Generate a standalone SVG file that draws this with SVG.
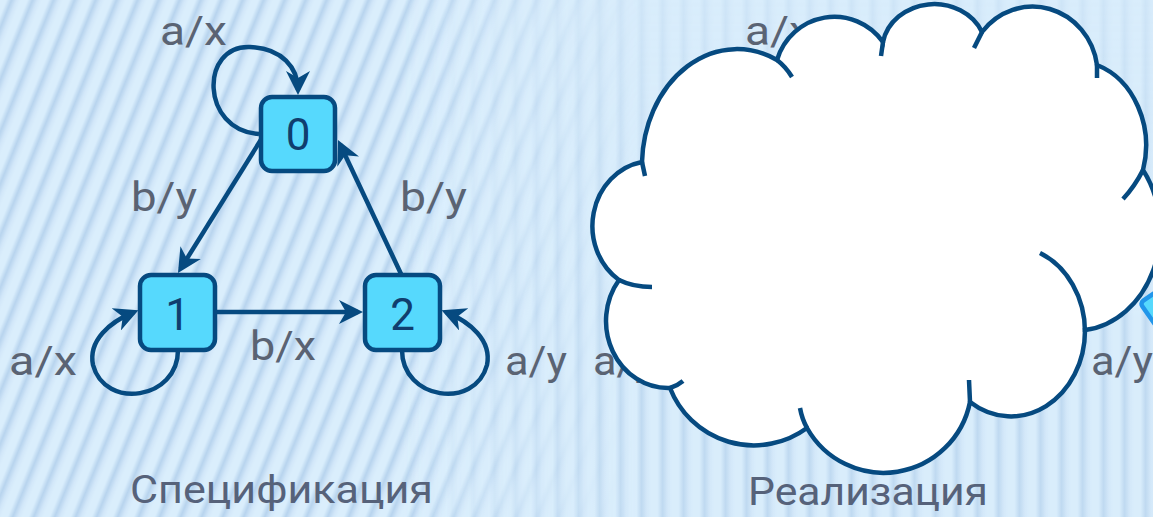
<svg xmlns="http://www.w3.org/2000/svg" width="1153" height="517" viewBox="0 0 1153 517">
  <defs>
    <style>
      .lbl { font-family: Roboto, "Liberation Sans", sans-serif; font-size: 40px; fill: #5A6373; }
      .ttl { font-family: Roboto, "Liberation Sans", sans-serif; font-size: 38px; fill: #56627A; }
      .node rect { fill: #56D9FD; stroke: #064A80; stroke-width: 4.5; }
      .node text { font-family: Roboto, "Liberation Sans", sans-serif; font-size: 44px; fill: #103E6E; text-anchor: middle; }
      .edge { fill: none; stroke: #064A80; stroke-width: 4.5; marker-end: url(#arrow); }
      .cloud { fill: #FFFFFF; stroke: #064A80; stroke-width: 4.5; stroke-linejoin: miter; }
      .crease { fill: none; stroke: #064A80; stroke-width: 4.5; }
    </style>

    <!-- soft stripe used by the background hatching -->
    <linearGradient id="stripeShade" x1="0" y1="0" x2="1" y2="0">
      <stop offset="0" stop-color="#DAEEFC"/>
      <stop offset="0.3" stop-color="#DAEEFC"/>
      <stop offset="0.55" stop-color="#B8D4EE"/>
      <stop offset="0.8" stop-color="#D2E7F9"/>
      <stop offset="1" stop-color="#DAEEFC"/>
    </linearGradient>
    <pattern id="stripesSlant" width="21" height="20" patternUnits="userSpaceOnUse" patternTransform="skewX(-22)">
      <rect width="21" height="20" fill="url(#stripeShade)"/>
    </pattern>
    <pattern id="stripesUpright" width="21" height="20" patternUnits="userSpaceOnUse">
      <rect width="21" height="20" fill="url(#stripeShade)"/>
    </pattern>

    <linearGradient id="fadeLeft" gradientUnits="userSpaceOnUse" x1="400" y1="0" x2="640" y2="0">
      <stop offset="0" stop-color="#FFFFFF"/>
      <stop offset="1" stop-color="#000000"/>
    </linearGradient>
    <linearGradient id="fadeRight" gradientUnits="userSpaceOnUse" x1="400" y1="0" x2="640" y2="0">
      <stop offset="0" stop-color="#000000"/>
      <stop offset="1" stop-color="#FFFFFF"/>
    </linearGradient>
    <linearGradient id="topDim" gradientUnits="userSpaceOnUse" x1="0" y1="0" x2="0" y2="320">
      <stop offset="0" stop-color="#000000" stop-opacity="0.6"/>
      <stop offset="1" stop-color="#000000" stop-opacity="0"/>
    </linearGradient>
    <mask id="maskLeft" maskUnits="userSpaceOnUse" x="0" y="0" width="1153" height="517">
      <rect width="1153" height="517" fill="url(#fadeLeft)"/>
    </mask>
    <mask id="maskRight" maskUnits="userSpaceOnUse" x="0" y="0" width="1153" height="517">
      <rect width="1153" height="517" fill="url(#fadeRight)"/>
      <rect width="1153" height="517" fill="url(#topDim)"/>
    </mask>

    <marker id="arrow" viewBox="0 0 24 24" markerWidth="24" markerHeight="24" refX="19" refY="12" orient="auto" markerUnits="userSpaceOnUse">
      <path d="M0,0 L24,12 L0,24 L7,12 Z" fill="#064A80"/>
    </marker>
  </defs>

  <!-- background -->
  <rect width="1153" height="517" fill="#D8ECFB"/>
  <rect width="1153" height="517" fill="url(#stripesSlant)" mask="url(#maskLeft)"/>
  <rect width="1153" height="517" fill="url(#stripesUpright)" mask="url(#maskRight)" opacity="0.75"/>

  <!-- specification automaton: transitions -->
  <g id="connectors">
    <path class="edge" d="M259,134 C200,130 200,45 250,47 C282,48 298,68 298,90"/>
    <path class="edge" d="M262,138 L180.6,268.8"/>
    <path class="edge" d="M402,276 L340.1,144.5"/>
    <path class="edge" d="M215,312 L358,312"/>
    <path class="edge" d="M178,350 C178,400 105,410 93,365 C88,340 110,322 133.8,312.1"/>
    <path class="edge" d="M402,350 C402,400 475,410 487,365 C492,340 470,322 446.2,312.1"/>
  </g>

  <!-- transition labels -->
  <g id="labels">
    <text class="lbl" x="160" y="45" textLength="67" lengthAdjust="spacingAndGlyphs">a/x</text>
    <text class="lbl" x="131" y="211" textLength="66" lengthAdjust="spacingAndGlyphs">b/y</text>
    <text class="lbl" x="400" y="211" textLength="67" lengthAdjust="spacingAndGlyphs">b/y</text>
    <text class="lbl" x="9" y="375" textLength="68" lengthAdjust="spacingAndGlyphs">a/x</text>
    <text class="lbl" x="250" y="360" textLength="66" lengthAdjust="spacingAndGlyphs">b/x</text>
    <text class="lbl" x="505" y="375" textLength="62" lengthAdjust="spacingAndGlyphs">a/y</text>
  </g>

  <!-- states -->
  <g id="state-0" class="node">
    <rect x="261" y="97" width="74" height="74" rx="11"/>
    <text x="298" y="150">0</text>
  </g>
  <g id="state-1" class="node">
    <rect x="140" y="275" width="75" height="75" rx="11"/>
    <text x="177.5" y="330">1</text>
  </g>
  <g id="state-2" class="node">
    <rect x="365" y="275" width="75" height="75" rx="11"/>
    <text x="402.5" y="330">2</text>
  </g>

  <!-- implementation automaton, mostly hidden behind the cloud -->
  <g id="implementation">
    <text class="lbl" x="745" y="45" textLength="67" lengthAdjust="spacingAndGlyphs">a/x</text>
    <text class="lbl" x="593" y="375" textLength="62" lengthAdjust="spacingAndGlyphs">a/y</text>
    <text class="lbl" x="1091" y="375" textLength="62" lengthAdjust="spacingAndGlyphs">a/y</text>
    <rect id="impl-state" x="1140" y="303" width="76" height="76" rx="4" transform="rotate(-35 1140 303)" fill="#56D9FD" stroke="#2196EA" stroke-width="4.5"/>
  </g>

  <!-- cloud covering the implementation -->
  <g id="cloud">
    <path class="cloud" d="M642,162 A95,117 0 0 1 777,60 A60,61 0 0 1 883,42 A52,46 0 0 1 982,32 A65,68 0 0 1 1097,65 A72,85 0 0 1 1143,170 A84,100 0 0 1 1085,330 A74,86 0 0 1 970,402 A88,88 0 0 1 807,428 A90,90 0 0 1 670,388 A62,67 0 0 1 619,280 A60,65 0 0 1 642,162 Z"/>
    <path class="crease" d="M642,162 L645,176 M777,60 Q786,67 792,77 M883,42 L881,56 M982,32 L974,48 M1097,64 L1097,78 M1143,170 Q1135,186 1123,199 M1040,253 A74,86 0 0 1 1085,332 M970,402 L969,380 M807,428 Q802,419 800,408 M670,388 Q677,386 683,381 M619,280 Q633,287 652,287"/>
  </g>

  <!-- captions -->
  <g id="captions">
    <text class="ttl" x="130" y="503" textLength="303" lengthAdjust="spacingAndGlyphs">Спецификация</text>
    <text class="ttl" x="748" y="505" textLength="240" lengthAdjust="spacingAndGlyphs">Реализация</text>
  </g>
</svg>
